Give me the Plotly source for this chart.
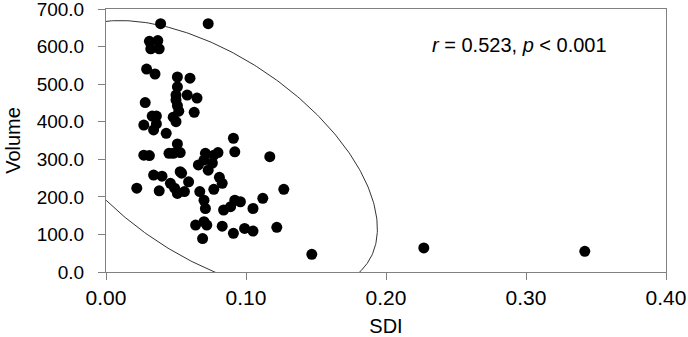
import numpy as np
import plotly.graph_objects as go

# Data (SDI vs Volume)
sdi = [0.039, 0.073, 0.031, 0.037, 0.032, 0.038, 0.029, 0.035, 0.051, 0.060,
       0.051, 0.028, 0.050, 0.058, 0.065, 0.050, 0.051, 0.052, 0.063, 0.033,
       0.036, 0.027, 0.036, 0.034, 0.043, 0.048, 0.050, 0.051, 0.027, 0.031,
       0.045, 0.048, 0.053, 0.066, 0.070, 0.071, 0.073, 0.077, 0.080, 0.034,
       0.040, 0.053, 0.054, 0.046, 0.059, 0.022, 0.038, 0.049, 0.051, 0.056,
       0.067, 0.070, 0.071, 0.077, 0.081, 0.083, 0.084, 0.089, 0.092, 0.096,
       0.105, 0.112, 0.127, 0.064, 0.070, 0.072, 0.083, 0.069, 0.091, 0.099,
       0.105, 0.122, 0.091, 0.092, 0.117, 0.147, 0.227, 0.342, 0.076]
volume = [661, 661, 614, 616, 594, 594, 540, 527, 519, 516,
          493, 451, 471, 471, 463, 458, 443, 428, 425, 415,
          415, 391, 394, 378, 369, 412, 400, 341, 311, 310,
          316, 316, 318, 285, 298, 316, 271, 311, 318, 258,
          255, 267, 263, 236, 240, 223, 216, 223, 209, 214,
          214, 191, 169, 220, 252, 236, 165, 174, 191, 187,
          169, 196, 220, 125, 134, 125, 122, 89, 103, 116,
          109, 119, 356, 320, 307, 47, 64, 55, 290]

x_ticks = [0.0, 0.1, 0.2, 0.3, 0.4]
x_tick_labels = ["0.00", "0.10", "0.20", "0.30", "0.40"]
y_ticks = [0, 100, 200, 300, 400, 500, 600, 700]
y_tick_labels = ["0.0", "100.0", "200.0", "300.0", "400.0", "500.0", "600.0", "700.0"]

# Confidence-ellipse overlay parameters (centre and conjugate semi-axis vectors)
ELLIPSE_CENTER = (0.0743, 309.0)
ELLIPSE_AXIS1 = (0.1123, -286.0)
ELLIPSE_AXIS2 = (-0.0410, -219.0)

t = np.linspace(0, 2 * np.pi, 400)
ex = ELLIPSE_CENTER[0] + ELLIPSE_AXIS1[0] * np.cos(t) + ELLIPSE_AXIS2[0] * np.sin(t)
ey = ELLIPSE_CENTER[1] + ELLIPSE_AXIS1[1] * np.cos(t) + ELLIPSE_AXIS2[1] * np.sin(t)

FONT = "Liberation Sans, Arial, sans-serif"

fig = go.Figure()
fig.add_trace(go.Scatter(x=ex, y=ey, mode="lines",
                         line=dict(color="#333333", width=1),
                         hoverinfo="skip", showlegend=False))
fig.add_trace(go.Scatter(x=sdi, y=volume, mode="markers",
                         marker=dict(color="black", size=11),
                         showlegend=False))

fig.add_annotation(x=0.295, y=604, xref="x", yref="y",
                   text="<i>r</i> = 0.523, <i>p</i> < 0.001",
                   showarrow=False, font=dict(family=FONT, size=20, color="black"))

axis_common = dict(showline=True, linecolor="#808080", linewidth=1, mirror=True,
                   ticks="outside", ticklen=7, tickcolor="#808080", tickwidth=1,
                   showgrid=False, zeroline=False, ticklabeloverflow="allow")

fig.update_xaxes(range=[0, 0.4], tickvals=x_ticks, ticktext=x_tick_labels,
                 tickfont=dict(family=FONT, size=21, color="black"),
                 title=dict(text="SDI", font=dict(family=FONT, size=20, color="black"), standoff=12),
                 **axis_common)
fig.update_yaxes(range=[0, 700], tickvals=y_ticks, ticktext=y_tick_labels,
                 tickfont=dict(family=FONT, size=19, color="black"),
                 ticklabelstandoff=10,
                 title=dict(text="Volume", font=dict(family=FONT, size=20, color="black"), standoff=10),
                 **axis_common)

fig.update_layout(width=688, height=337, autosize=False,
                  margin=dict(l=106, r=22, t=9, b=65, autoexpand=False),
                  plot_bgcolor="white", paper_bgcolor="white",
                  showlegend=False)

fig.write_html("out.html", config={"displayModeBar": False},
               post_script="document.body.style.margin='0';")
